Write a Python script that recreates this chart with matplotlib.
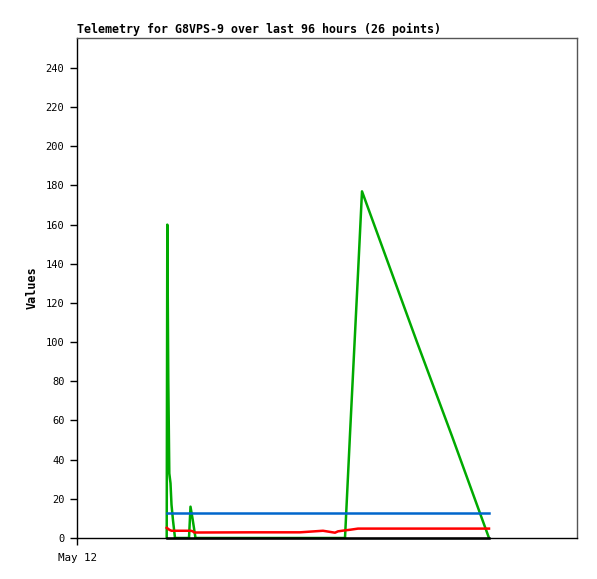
import matplotlib
matplotlib.use("Agg")
import matplotlib.pyplot as plt

# hours since May 12 00:00
hours = [17.94, 18.06, 18.26, 18.46, 18.70, 18.90, 19.20, 19.60, 22.40, 22.70,
         23.10, 23.40, 23.70, 35.00, 44.60, 49.20, 51.60, 52.20, 53.60, 54.60,
         56.20, 57.00, 62.00, 68.00, 75.00, 82.40]
green = [0, 160, 80, 33, 28, 17, 9, 0, 0, 16,
         10, 5, 0, 0, 0, 0, 0, 0, 0, 53,
         135, 177, 142, 100, 52, 0]
red = [5.2, 5.0, 4.6, 4.2, 3.9, 3.7, 3.7, 3.7, 3.7, 3.7,
       3.5, 2.9, 2.8, 2.9, 2.9, 3.7, 2.7, 3.4, 3.9, 4.2,
       4.8, 4.8, 4.8, 4.8, 4.8, 4.8]
blue = [13.0] * 26
black = [0.0] * 26

yticks = list(range(0, 241, 20))
x_tick_pos = [0]
x_tick_labels = ["May 12"]
title = "Telemetry for G8VPS-9 over last 96 hours (26 points)"

font = "DejaVu Sans Mono"
fig = plt.figure(figsize=(5.97, 5.79), dpi=100)
ax = fig.add_axes([77/597, 1-538/579, 500/597, 500/579])

lw = 1.8
ax.plot(hours, green, color="#00aa00", lw=lw, zorder=2)
ax.plot(hours, red, color="#ff0000", lw=lw, zorder=3)
ax.plot(hours, blue, color="#0066cc", lw=lw, zorder=4)
ax.plot(hours, black, color="#000000", lw=lw, zorder=5, clip_on=False)

ax.set_xlim(0, 100)
ax.set_ylim(0, 255.3)
ax.set_yticks(yticks)
ax.set_yticklabels([str(v) for v in yticks], fontfamily=font, fontsize=7.5)
ax.set_xticks(x_tick_pos)
ax.set_xticklabels(x_tick_labels, fontfamily=font, fontsize=7.8)
ax.tick_params(axis="both", direction="out", length=5, width=1, color="black", pad=4)
ax.tick_params(axis="x", pad=6)

for s in ("left", "bottom"):
    ax.spines[s].set_color("black")
    ax.spines[s].set_linewidth(1)
for s in ("top", "right"):
    ax.spines[s].set_color("#555555")
    ax.spines[s].set_linewidth(1)

ax.set_ylabel("Values", fontfamily=font, fontsize=8.5, fontweight="bold", labelpad=5)
ax.text(0, 1.004, title, transform=ax.transAxes, fontfamily=font, fontsize=8.4,
        fontweight="bold", ha="left", va="bottom")

fig.savefig("out.png", dpi=100)
